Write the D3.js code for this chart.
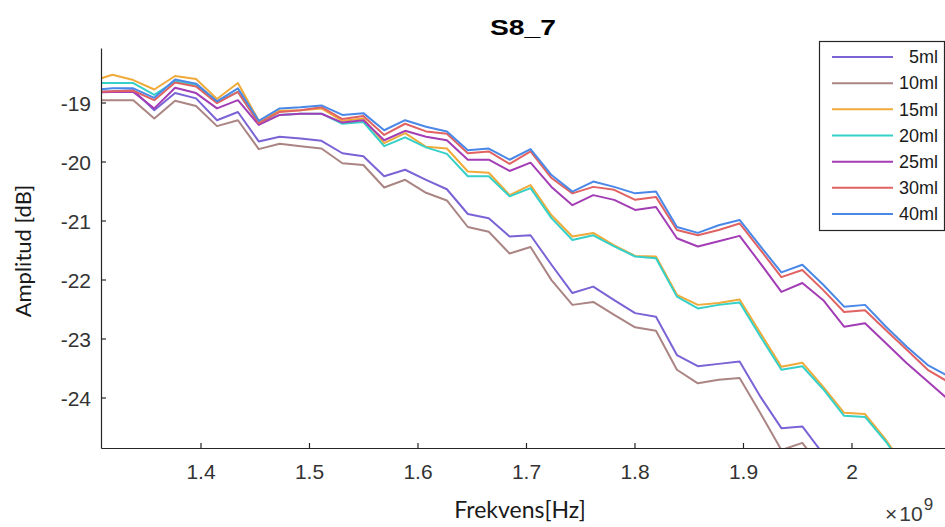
<!DOCTYPE html>
<html><head><meta charset="utf-8">
<script src="https://cdn.jsdelivr.net/npm/d3@7"></script>
<style>body{margin:0;background:#fff}svg{display:block}</style>
</head><body>
<svg id="chart" width="945" height="527"></svg>
<script>
// Frequency points (GHz, axis shows x10^9 Hz)
const freqGHz = [1.2996, 1.3188, 1.3381, 1.3574, 1.3766, 1.3959, 1.4152, 1.4345, 1.4537, 1.4730,
  1.4923, 1.5115, 1.5308, 1.5501, 1.5693, 1.5886, 1.6079, 1.6271, 1.6464, 1.6657,
  1.6849, 1.7042, 1.7235, 1.7428, 1.7620, 1.7813, 1.8006, 1.8198, 1.8391, 1.8584,
  1.8776, 1.8969, 1.9162, 1.9354, 1.9547, 1.9740, 1.9932, 2.0125, 2.0318, 2.0510,
  2.0703, 2.0896];

const amp5ml = [-18.82, -18.81, -18.79, -19.13, -18.84, -18.93, -19.30, -19.16, -19.66, -19.58, -19.61, -19.65, -19.86, -19.91, -20.25, -20.14, -20.31, -20.47, -20.89, -20.96, -21.27, -21.25, -21.75, -22.23, -22.12, -22.35, -22.57, -22.63, -23.28, -23.47, -23.43, -23.39, -23.99, -24.52, -24.49, -24.96, -25.40, -25.80, -26.20, -26.60, -27.00, -27.40];
const amp10ml = [-18.96, -18.96, -18.96, -19.27, -18.97, -19.06, -19.40, -19.30, -19.79, -19.70, -19.74, -19.78, -20.03, -20.06, -20.44, -20.31, -20.53, -20.66, -21.11, -21.19, -21.56, -21.45, -22.01, -22.43, -22.38, -22.60, -22.81, -22.87, -23.53, -23.76, -23.70, -23.67, -24.27, -24.89, -24.77, -25.23, -25.57, -25.90, -26.20, -26.50, -26.80, -27.10];
const amp15ml = [-18.64, -18.53, -18.62, -18.78, -18.55, -18.60, -18.94, -18.67, -19.31, -19.14, -19.13, -19.10, -19.31, -19.27, -19.69, -19.52, -19.75, -19.78, -20.17, -20.19, -20.57, -20.40, -20.91, -21.27, -21.21, -21.42, -21.60, -21.61, -22.26, -22.43, -22.40, -22.34, -22.91, -23.48, -23.41, -23.82, -24.26, -24.28, -24.72, -25.23, -25.74, -26.25];
const amp20ml = [-18.67, -18.67, -18.67, -18.87, -18.64, -18.70, -18.99, -18.82, -19.35, -19.21, -19.19, -19.19, -19.36, -19.33, -19.74, -19.59, -19.76, -19.87, -20.25, -20.25, -20.59, -20.45, -20.96, -21.33, -21.25, -21.44, -21.61, -21.64, -22.29, -22.49, -22.43, -22.39, -22.97, -23.53, -23.47, -23.86, -24.31, -24.33, -24.75, -25.26, -25.74, -26.08];
const amp25ml = [-18.83, -18.82, -18.82, -19.10, -18.75, -18.84, -19.10, -18.96, -19.38, -19.21, -19.19, -19.19, -19.34, -19.30, -19.64, -19.48, -19.58, -19.64, -19.97, -19.97, -20.16, -20.02, -20.43, -20.74, -20.57, -20.65, -20.82, -20.77, -21.30, -21.44, -21.35, -21.26, -21.73, -22.21, -22.06, -22.35, -22.80, -22.74, -23.08, -23.42, -23.73, -24.04];
const amp30ml = [-18.82, -18.81, -18.80, -18.96, -18.66, -18.73, -19.01, -18.82, -19.35, -19.16, -19.13, -19.08, -19.28, -19.23, -19.55, -19.36, -19.49, -19.53, -19.86, -19.83, -20.04, -19.83, -20.28, -20.54, -20.43, -20.48, -20.65, -20.60, -21.16, -21.25, -21.16, -21.05, -21.50, -21.96, -21.84, -22.18, -22.55, -22.52, -22.86, -23.19, -23.53, -23.74];
const amp40ml = [-18.79, -18.76, -18.76, -18.92, -18.61, -18.68, -18.98, -18.76, -19.31, -19.10, -19.08, -19.05, -19.21, -19.18, -19.47, -19.30, -19.41, -19.49, -19.81, -19.78, -19.97, -19.79, -20.23, -20.51, -20.34, -20.43, -20.54, -20.51, -21.11, -21.21, -21.08, -20.99, -21.44, -21.88, -21.75, -22.09, -22.46, -22.43, -22.80, -23.14, -23.45, -23.64];

const seriesNames = ["5ml", "10ml", "15ml", "20ml", "25ml", "30ml", "40ml"];
const seriesValues = [amp5ml, amp10ml, amp15ml, amp20ml, amp25ml, amp30ml, amp40ml];
const seriesColors = ["#7b63d6", "#aa8583", "#efaa3a", "#35d0c8", "#a33db5", "#e06262", "#4a88e8"];

const xTicks = [1.4, 1.5, 1.6, 1.7, 1.8, 1.9, 2.0];
const yTicks = [-24, -23, -22, -21, -20, -19];
const titleText = "S8_7";
const xLabel = "Frekvens[Hz]";
const yLabel = "Amplitud [dB]";

const svg = d3.select("#chart");
const L = 101, R = 945, T = 48, B = 448;
const x = d3.scaleLinear().domain([1.3083, 2.0862]).range([L, R]);
const y = d3.scaleLinear().domain([-24.856, -18.076]).range([B, T]);

svg.append("defs").append("clipPath").attr("id", "clip")
  .append("rect").attr("x", L).attr("y", T).attr("width", R - L).attr("height", B - T);

const tickFont = "'Liberation Sans', Arial, Helvetica, sans-serif";
const labelFont = "Lato, 'Open Sans', sans-serif";
const axisColor = "#262626";

// lines
const line = d3.line().x((d, i) => x(freqGHz[i])).y(d => y(d));
const g = svg.append("g").attr("clip-path", "url(#clip)");
seriesValues.forEach((vals, si) => {
  g.append("path").datum(vals)
    .attr("d", line)
    .attr("fill", "none")
    .attr("stroke", seriesColors[si])
    .attr("stroke-width", 2)
    .attr("stroke-linejoin", "round");
});

// axes
const yAxis = d3.axisLeft(y).tickValues(yTicks).tickSizeInner(-5).tickSizeOuter(0)
  .tickPadding(10).tickFormat(d => String(d));
const xAxis = d3.axisBottom(x).tickValues(xTicks).tickSizeInner(-5).tickSizeOuter(0)
  .tickPadding(16).tickFormat(d => String(d));

const gy = svg.append("g").attr("transform", `translate(${L},0)`).call(yAxis);
const gx = svg.append("g").attr("transform", `translate(0,${B})`).call(xAxis);
[gx, gy].forEach(a => {
  a.select(".domain").attr("stroke", axisColor).attr("stroke-width", 1.2);
  a.selectAll(".tick line").attr("stroke", axisColor).attr("stroke-width", 1.2);
  a.selectAll(".tick text").attr("fill", "#333")
    .style("font-family", tickFont).style("font-size", "21px");
});
gy.selectAll(".tick text").attr("dy", "0.4em");

// title
svg.append("text").attr("x", (L + R) / 2).attr("y", 35)
  .attr("text-anchor", "middle")
  .attr("textLength", 66).attr("lengthAdjust", "spacingAndGlyphs")
  .style("font-family", tickFont).style("font-weight", "bold").style("font-size", "22px")
  .attr("fill", "#000").text(titleText);

// axis labels
svg.append("text").attr("x", 520).attr("y", 518)
  .attr("text-anchor", "middle")
  .style("font-family", labelFont).style("font-size", "23px")
  .attr("fill", "#1a1a1a").text(xLabel);
svg.append("text").attr("transform", "translate(31,251) rotate(-90)")
  .attr("text-anchor", "middle")
  .style("font-family", labelFont).style("font-size", "22px")
  .attr("fill", "#1a1a1a").text(yLabel);

// x10^9 exponent
const ex = svg.append("text").attr("x", 885).attr("y", 521)
  .style("font-family", tickFont).style("font-size", "21px").attr("fill", "#3a3a3a");
ex.append("tspan").text("\u00d7");
ex.append("tspan").attr("dx", 2).text("10");
ex.append("tspan").attr("dx", 1).attr("dy", -11).style("font-size", "17px").text("9");

// legend
const lg = svg.append("g");
lg.append("rect").attr("x", 819.5).attr("y", 41.5).attr("width", 125).attr("height", 189)
  .attr("fill", "#fff").attr("stroke", axisColor).attr("stroke-width", 1.2);
const legY = d3.scalePoint().domain(seriesNames).range([57, 214]);
seriesNames.forEach((n, i) => {
  lg.append("line").attr("x1", 832).attr("x2", 893)
    .attr("y1", legY(n)).attr("y2", legY(n))
    .attr("stroke", seriesColors[i]).attr("stroke-width", 2);
  lg.append("text").attr("x", 938).attr("y", legY(n)).attr("dy", "0.35em")
    .attr("text-anchor", "end")
    .style("font-family", tickFont).style("font-size", "18px").attr("fill", "#1a1a1a")
    .text(n);
});
</script>
</body></html>
